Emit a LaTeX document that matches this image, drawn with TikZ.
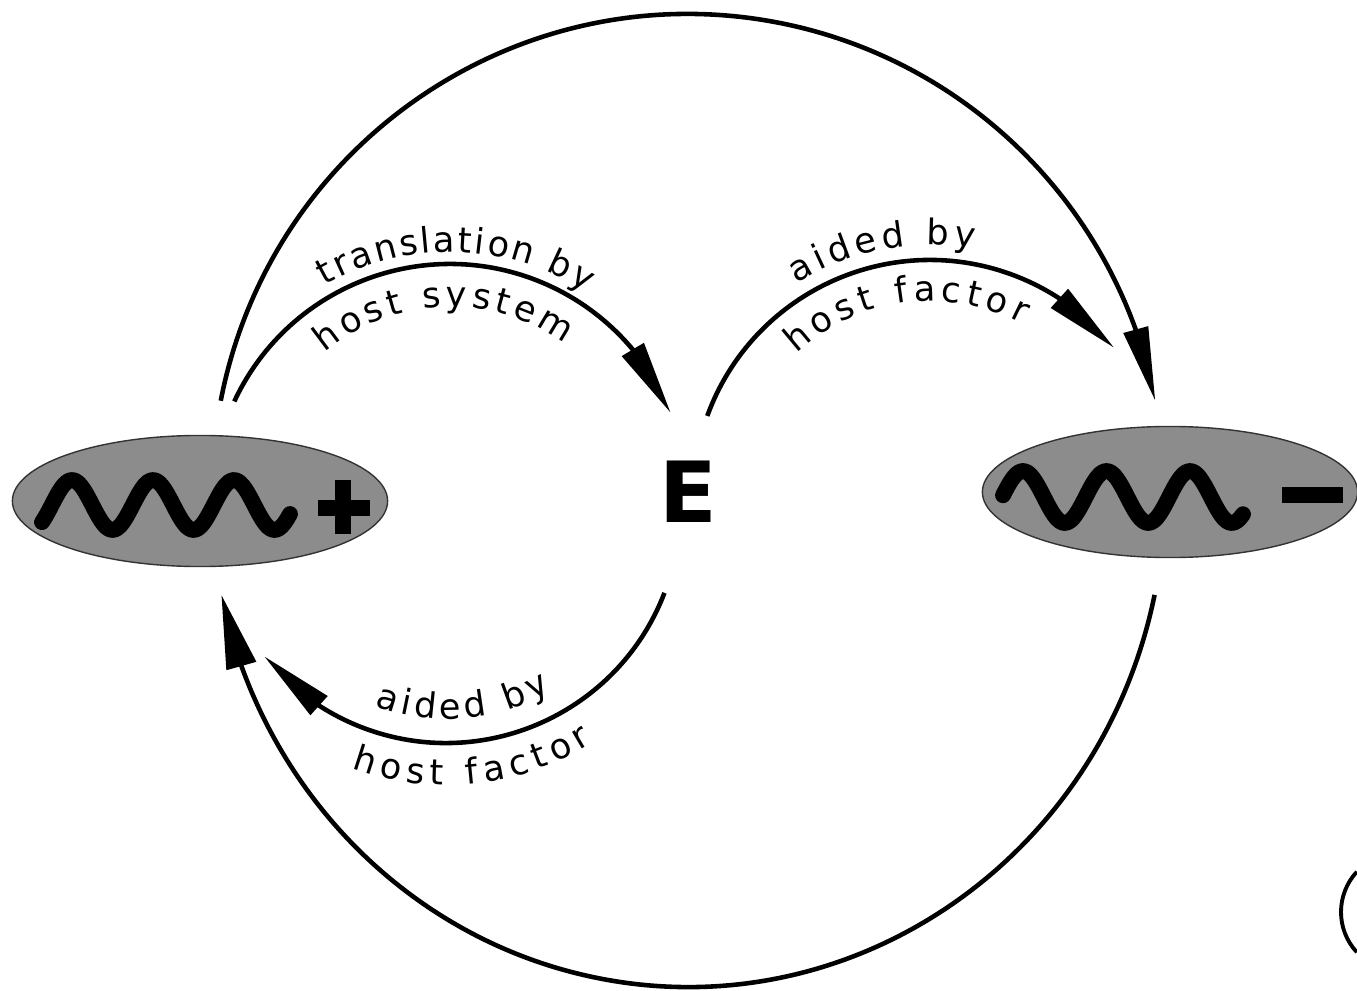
\documentclass[tikz,border=0pt]{standalone}
\usepackage{fontspec}
\setmainfont{DejaVu Sans}
\usepackage{tikz}
\usetikzlibrary{arrows.meta,bending,shapes.geometric,decorations.text}

\newcommand\labfont{\fontsize{10}{12}\selectfont}

\begin{document}
\begin{tikzpicture}[
  x=0.01cm, y=0.01cm,
  blob/.style={ellipse, draw=black!80, fill=black!45, minimum width=3.75cm, minimum height=1.31cm, inner sep=0pt},
  wave/.style={line width=4.5pt, line cap=round, line join=round},
  bar/.style={line width=4.3pt},
  arr/.style={line width=1.3pt, -{Triangle[length=21pt, width=7pt]}},
  lbl/.style={decorate, decoration={text along path, text align={fit to path}, text={|\labfont|#1}}}
]
  \useasboundingbox (0,0) rectangle (1357,990);

  \node[blob] (plus) at (200,489) {};
  \node[blob] (minus) at (1170,498) {};
  \node[font=\fontsize{24}{28}\selectfont\bfseries] (E) at (688,498) {E};

  \draw[wave] plot[domain=42:290, samples=90, smooth] (\x, {485+25*cos(4.4444*(\x-72))});
  \draw[bar] (318,482) -- (370,482) (343,510) -- (343,456);
  \draw[wave] plot[domain=1003:1243, samples=90, smooth] (\x, {493+26*cos(4.3114*(\x-1023))});
  \draw[bar] (1282,495) -- (1343,495);

  \coordinate (oL) at (450,488);
  \coordinate (oR) at (930,493);
  \coordinate (oB) at (446,481);

  \draw[arr] ([shift={(169:476 and 478)}]E.center) arc[start angle=169, end angle=11, x radius=476, y radius=478];
  \draw[arr, -{Triangle[length=21pt, width=8.5pt]}] ([shift={(-12:477 and 495)}]E.center) arc[start angle=-12, end angle=-168, x radius=477, y radius=495];
  \draw[arr] ([shift={(155:238)}]oL) arc[start angle=155, end angle=22, radius=238];
  \draw[arr] ([shift={(160:237)}]oR) arc[start angle=160, end angle=39, radius=237];
  \draw[arr] ([shift={(-21:234)}]oB) arc[start angle=-21, end angle=-141, radius=234];

  \path[lbl={translation by}] ([shift={(120:250)}]oL) arc[start angle=120, end angle=57, radius=250];
  \path[lbl={host system}] ([shift={(130:195)}]oL) arc[start angle=130, end angle=54, radius=195];
  \path[lbl={aided by}] ([shift={(122:252)}]oR) arc[start angle=122, end angle=80, radius=252];
  \path[lbl={host factor}] ([shift={(133:196)}]oR) arc[start angle=133, end angle=62, radius=196];
  \path[lbl={aided by}] ([shift={(-110:210)}]oB) arc[start angle=-110, end angle=-60, radius=210];
  \path[lbl={host factor}] ([shift={(-110:276)}]oB) arc[start angle=-110, end angle=-58, radius=276];

  \draw[line width=1.1pt] (1400,78) ++(137:59) arc[start angle=137, end angle=223, radius=59];
\end{tikzpicture}
\end{document}
